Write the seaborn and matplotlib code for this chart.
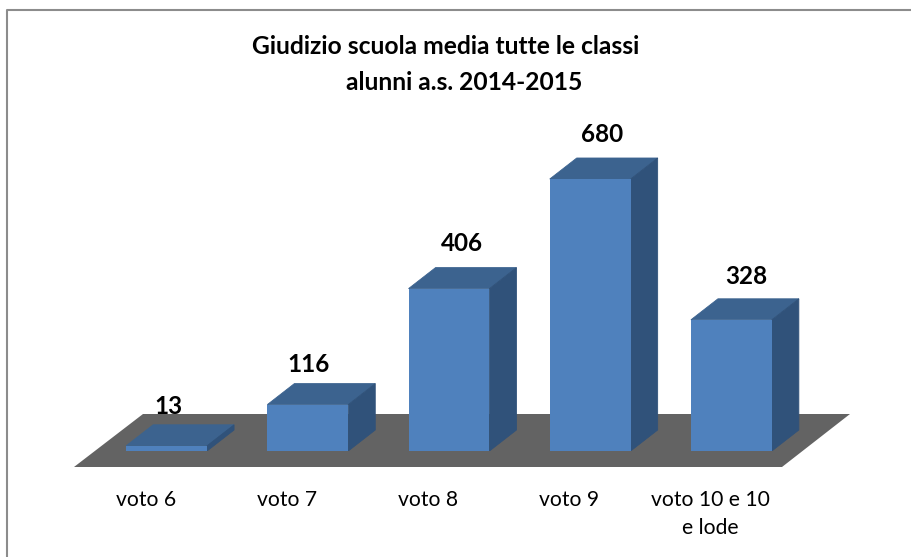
import pandas as pd
import seaborn as sns
import matplotlib.pyplot as plt
from matplotlib.lines import Line2D
from matplotlib.patches import Polygon

categorie = ["voto 6", "voto 7", "voto 8", "voto 9", "voto 10 e 10\ne lode"]
alunni = [13, 116, 406, 680, 328]
titolo = ["Giudizio scuola media tutte le classi", "alunni a.s. 2014-2015"]

W, H = 911, 557
FRONT = "#4f81bd"
TOP = "#3c638f"
SIDE = "#30527a"
FLOOR = "#636363"

sns.set_style("white")
plt.rcParams["font.family"] = ["Lato", "DejaVu Sans"]

df = pd.DataFrame({"voto": categorie, "alunni": alunni})


def fx(x):
    return x / W


def fy(y):
    return 1 - y / H


fig = plt.figure(figsize=(W / 100, H / 100), dpi=100)
# assi: baseline a y=451 px, 0.4 px per alunno
left, right, base, top = 96, 802, 451, 151
ax = fig.add_axes([fx(left), fy(base), (right - left) / W, (base - top) / H])
px = (base - top) / 750

sns.barplot(data=df, x="voto", y="alunni", color=FRONT, saturation=1, width=0.573,
            linewidth=0, edgecolor="none", ax=ax, zorder=4)
ax.set_ylim(0, 750)
ax.set_xlim(-0.5, 4.5)
ax.set_xlabel("")
ax.set_ylabel("")
ax.set_yticks([])
ax.set_xticks([])
ax.patch.set_alpha(0)
sns.despine(ax=ax, left=True, bottom=True)

# cornice: solo sopra e a sinistra
fig.add_artist(Line2D([fx(7), fx(7), fx(911)], [fy(557), fy(9.5), fy(9.5)], transform=fig.transFigure,
                      color="#8c8c8c", linewidth=1.5))

# pavimento in pixel
floor_px = [(74, 467), (782, 467), (850, 414), (143, 414)]
fig.add_artist(Polygon([(fx(x), fy(y)) for x, y in floor_px], closed=True,
                       transform=fig.transFigure, facecolor=FLOOR, edgecolor="none", zorder=-1))

# facce laterali e superiori delle barre (bordo dello stesso colore per non lasciare fessure)
dx = 27 * 5 / (right - left)
dy = 21 / px
for bar, valore in zip(ax.patches, alunni):
    x0 = bar.get_x()
    x1 = x0 + bar.get_width()
    ax.add_patch(Polygon([(x0, valore), (x1, valore), (x1 + dx, valore + dy), (x0 + dx, valore + dy)],
                         closed=True, facecolor=TOP, edgecolor=TOP, linewidth=0.6, zorder=3))
    ax.add_patch(Polygon([(x1, 0), (x1 + dx, dy), (x1 + dx, valore + dy), (x1, valore)],
                         closed=True, facecolor=SIDE, edgecolor=SIDE, linewidth=0.6, zorder=3))

# etichette dei valori, spostate a mano come nell'originale (pixel)
spost_x = [2, 0.5, 12.5, 11.5, 14.5]
spost_y = [18, 19, 24, 24, 22]
for i, valore in enumerate(alunni):
    ax.annotate(str(valore), xy=(i, valore + dy), xytext=(spost_x[i], spost_y[i]), textcoords="offset pixels",
                ha="center", va="center", fontsize=17.5, fontweight="bold", color="black",
                annotation_clip=False, zorder=5)

# etichette delle categorie
for i, nome in enumerate(categorie):
    righe = nome.split("\n")
    for j, riga in enumerate(righe):
        ax.annotate(riga, xy=(i, 0), xytext=(-21, -49 - 28.5 * j), textcoords="offset pixels",
                    ha="center", va="center", fontsize=15.2, color="black", annotation_clip=False)

fig.text(fx(446), fy(46), titolo[0], ha="center", va="center", fontsize=17.7, fontweight="bold", color="black")
fig.text(fx(464.5), fy(83), titolo[1], ha="center", va="center", fontsize=17.7, fontweight="bold", color="black")

fig.savefig("out.png", dpi=100)
